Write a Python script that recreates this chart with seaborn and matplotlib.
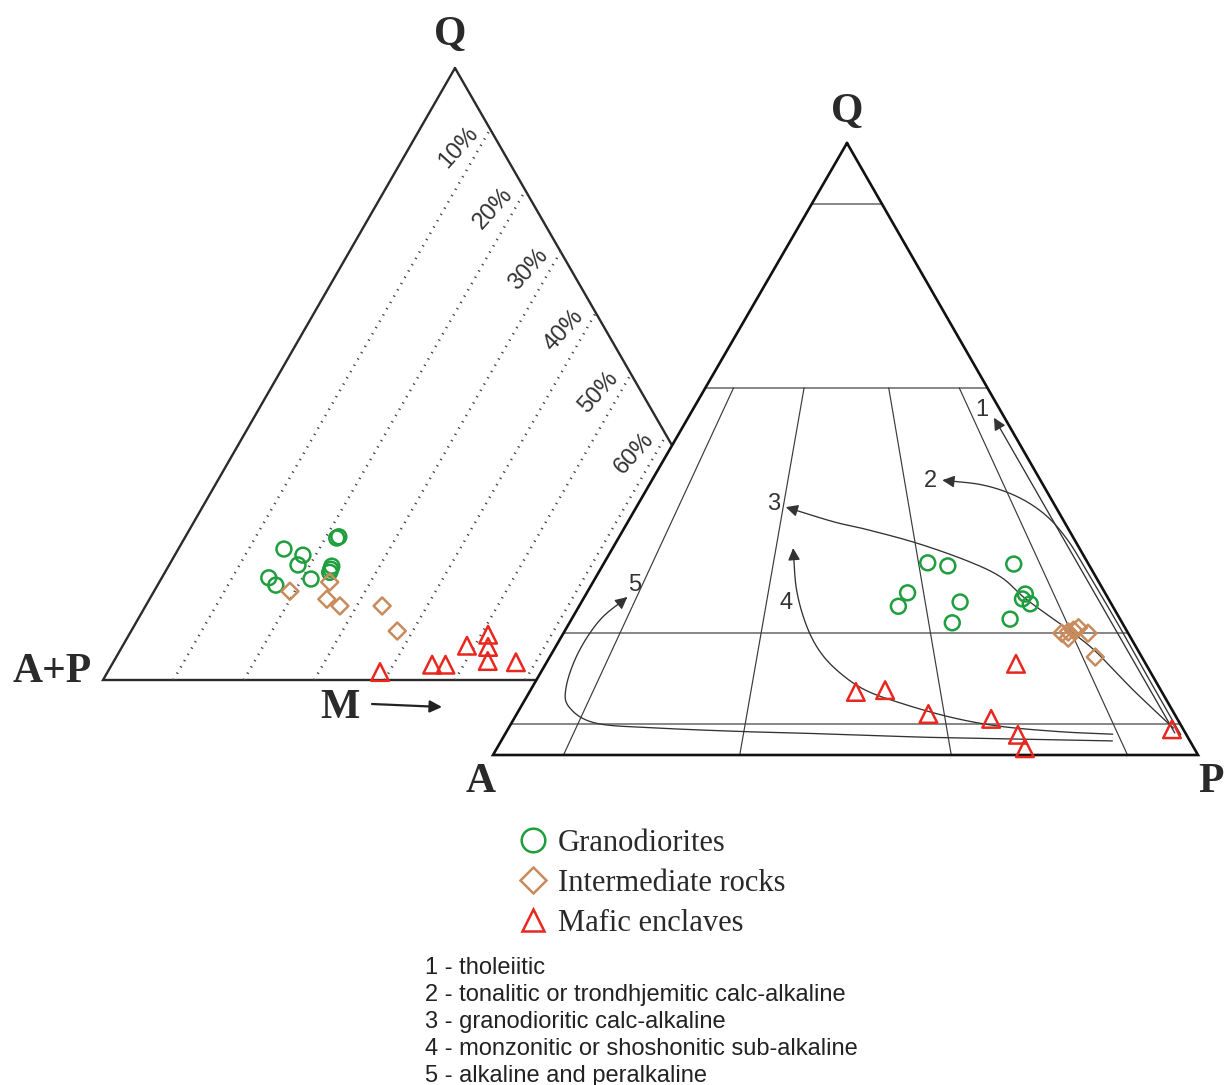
import numpy as np
import pandas as pd
import matplotlib
matplotlib.use("Agg")
import matplotlib.pyplot as plt
from matplotlib.lines import Line2D
import seaborn as sns

sns.set_theme(style="white")
plt.rcParams["font.family"] = ["Liberation Sans", "DejaVu Sans"]

# ---------------- data (percent) ----------------
# Q-(A+P)-M diagram: quartz and mafic-mineral contents
qm_gran_q = [23.2, 23.4, 21.4, 20.4, 18.8, 18.6, 18.1, 17.6, 16.5, 16.7, 15.5]
qm_gran_m = [21.6, 21.8, 15.0, 18.2, 18.3, 23.2, 23.3, 23.4, 21.3, 15.2, 16.8]
qm_int_q = [14.5, 16.0, 13.2, 12.1, 12.1, 8.0]
qm_int_m = [19.3, 24.2, 25.2, 27.6, 33.6, 37.8]
qm_maf_q = [1.3, 2.5, 2.5, 5.6, 7.4, 5.4, 3.1, 2.9]
qm_maf_m = [38.7, 45.5, 47.4, 48.9, 51.0, 52.0, 53.1, 57.2]

# Q-A-P diagram: quartz and plagioclase contents
qap_gran_q = [31.4, 30.9, 31.2, 26.5, 24.3, 25.0, 21.6, 22.2, 26.3, 25.5, 24.7]
qap_gran_p = [45.9, 49.0, 58.2, 45.5, 45.3, 53.7, 54.3, 62.2, 62.3, 62.3, 63.8]
qap_int_q = [19.9, 19.1, 20.4, 20.8, 19.9, 16.0, 20.1]
qap_int_p = [70.7, 72.0, 72.1, 72.6, 74.4, 77.4, 71.5]
qap_maf_q = [10.3, 10.6, 6.7, 5.9, 14.9, 3.3, 1.1, 4.2]
qap_maf_p = [46.3, 50.3, 58.4, 67.7, 66.7, 72.8, 74.9, 94.2]

group_names = ["Granodiorites", "Intermediate rocks", "Mafic enclaves"]
group_colors = ["#1f9e3e", "#c98a5c", "#e8281e"]
group_markers = ["o", "D", "^"]
group_sizes = [115, 75, 160]

m_levels = [10, 20, 30, 40, 50, 60]
m_tick_labels = ["10%", "20%", "30%", "40%", "50%", "60%"]
qap_q_levels = [90, 60, 20, 5]
qap_p_ratios = [10, 35, 65, 90]

# magmatic series trends (Q %, P %), drawn from start to arrow tip
trend_q = {
    "1": [3.6, 55.1],
    "2": [3.3, 10.6, 20.4, 29.4, 35.1, 39.2, 42.2, 44.1, 44.9],
    "3": [4.4, 10.6, 16.7, 19.9, 23.4, 25.8, 29.1, 31.7, 34.6, 36.8, 38.1, 40.5],
    "4": [3.4, 3.8, 4.7, 6.2, 8.5, 10.6, 13.4, 16.8, 21.2, 27.0, 33.8],
    "5": [2.3, 2.6, 2.9, 3.4, 3.8, 4.4, 5.2, 7.8, 11.1, 16.7, 22.1, 25.8],
}
trend_p = {
    "1": [94.9, 43.4],
    "2": [95.9, 88.6, 78.9, 69.8, 63.9, 58.7, 53.2, 47.4, 41.2],
    "3": [94.3, 85.5, 77.3, 72.3, 66.3, 62.3, 57.4, 51.4, 42.8, 34.7, 29.2, 21.2],
    "4": [86.2, 78.6, 69.5, 61.7, 53.5, 47.5, 42.5, 38.0, 33.8, 29.5, 25.6],
    "5": [86.7, 72.9, 59.9, 47.1, 34.3, 21.3, 12.0, 6.9, 4.8, 3.7, 4.1, 6.1],
}
trend_label_q = [56.4, 44.8, 41.0, 24.8, 27.8]
trend_label_p = [41.0, 39.6, 19.2, 29.1, 6.1]
trend_names = ["1", "2", "3", "4", "5"]

series_text = [
    "1 - tholeiitic",
    "2 - tonalitic or trondhjemitic calc-alkaline",
    "3 - granodioritic calc-alkaline",
    "4 - monzonitic or shoshonitic sub-alkaline",
    "5 - alkaline and peralkaline",
]

# ---------------- geometry ----------------
W, H = 1225, 1085
QM_V = ((455, 68), (103, 680), (807, 680))     # Q, A+P, M
QAP_V = ((847, 143), (493, 755), (1198, 755))  # Q, A, P


def tern(verts, top, right):
    t = np.asarray(top, float) / 100.0
    r = np.asarray(right, float) / 100.0
    l = 1.0 - t - r
    (tx, ty), (lx, ly), (rx, ry) = verts
    return t * tx + l * lx + r * rx, t * ty + l * ly + r * ry


def smooth(xs, ys, n=24):
    pts = np.column_stack([xs, ys])
    if len(pts) < 3:
        return pts
    p = np.vstack([2 * pts[0] - pts[1], pts, 2 * pts[-1] - pts[-2]])
    out = []
    t = np.linspace(0, 1, n, endpoint=False)[:, None]
    for i in range(1, len(p) - 2):
        p0, p1, p2, p3 = p[i - 1], p[i], p[i + 1], p[i + 2]
        out.append(0.5 * (2 * p1 + (-p0 + p2) * t
                          + (2 * p0 - 5 * p1 + 4 * p2 - p3) * t ** 2
                          + (-p0 + 3 * p1 - 3 * p2 + p3) * t ** 3))
    out.append(pts[-1:])
    return np.vstack(out)


fig = plt.figure(figsize=(W / 100, H / 100), dpi=100)
ax = fig.add_axes([0, 0, 1, 1])

dark = "#2b2b2b"
bold_serif = dict(family="Liberation Serif", weight="bold", size=30, color="#2a2a2a")

# ---------------- Q-(A+P)-M diagram ----------------
tri = np.array(QM_V + (QM_V[0],))
ax.plot(tri[:, 0], tri[:, 1], color=dark, lw=1.7, zorder=1, solid_joinstyle="miter")
for m, lab in zip(m_levels, m_tick_labels):
    x0, y0 = tern(QM_V, 0, m)
    x1, y1 = tern(QM_V, 100 - m, m)
    ax.plot([x0, x1], [y0, y1], color="#444444", lw=1.8,
            linestyle=(0, (0.5, 2.4)), zorder=1)
    ax.text(x1 - 32, y1 + 18, lab, rotation=48, ha="center", va="center",
            fontsize=17, color="#333333", zorder=2)

qm_sets = [(qm_gran_q, qm_gran_m), (qm_int_q, qm_int_m), (qm_maf_q, qm_maf_m)]
for (qv, mv), name, col, mk, s in zip(qm_sets, group_names, group_colors,
                                      group_markers, group_sizes):
    x, y = tern(QM_V, qv, mv)
    df = pd.DataFrame({"x": x, "y": y})
    sns.scatterplot(data=df, x="x", y="y", ax=ax, marker=mk, s=s, color=col,
                    facecolor="none", edgecolor=col, linewidth=1.8, zorder=3,
                    legend=False)

ax.text(450, 35, "Q", ha="center", va="center", **bold_serif)
ax.text(92, 672, "A+P", ha="right", va="center", **bold_serif)
ax.text(340, 708, "M", ha="center", va="center", **bold_serif)
ax.annotate("", xy=(442, 707), xytext=(372, 704),
            arrowprops=dict(arrowstyle="-|>", color="#222222", lw=1.6,
                            mutation_scale=18, shrinkA=0, shrinkB=0))

# ---------------- Q-A-P diagram ----------------
tri2 = np.array(QAP_V)
ax.fill(tri2[:, 0], tri2[:, 1], color="white", zorder=4)
for q in qap_q_levels:
    x, y = tern(QAP_V, [q, q], [0, 100 - q])
    ax.plot(x, y, color="#7d7d7d", lw=1.3, zorder=5)
for r in qap_p_ratios:
    x, y = tern(QAP_V, [60, 0], [0.4 * r, r])
    ax.plot(x, y, color="#3a3a3a", lw=0.85, zorder=5)
tri2c = np.vstack([tri2, tri2[:1]])
ax.plot(tri2c[:, 0], tri2c[:, 1], color="#111111", lw=1.9, zorder=6,
        solid_joinstyle="miter")

for key in trend_names:
    x, y = tern(QAP_V, trend_q[key], trend_p[key])
    pts = smooth(x, y)
    tip = pts[-1]
    d = pts[-2] - tip
    d = d / np.hypot(*d)
    ax.plot(list(pts[:-1, 0]) + [tip[0] + 4 * d[0]],
            list(pts[:-1, 1]) + [tip[1] + 4 * d[1]],
            color="#333333", lw=0.95, zorder=5)
    base = tip + d * 10
    ax.annotate("", xy=tuple(tip), xytext=tuple(base),
                arrowprops=dict(arrowstyle="-|>", color="#333333", lw=0.95,
                                mutation_scale=18, shrinkA=0, shrinkB=0),
                zorder=6)

lx, ly = tern(QAP_V, trend_label_q, trend_label_p)
for name, x, y in zip(trend_names, lx, ly):
    ax.text(x, y, name, ha="center", va="center", fontsize=17,
            color="#333333", zorder=7)

qap_sets = [(qap_gran_q, qap_gran_p), (qap_int_q, qap_int_p), (qap_maf_q, qap_maf_p)]
for (qv, pv), name, col, mk, s in zip(qap_sets, group_names, group_colors,
                                      group_markers, group_sizes):
    x, y = tern(QAP_V, qv, pv)
    df = pd.DataFrame({"x": x, "y": y})
    sns.scatterplot(data=df, x="x", y="y", ax=ax, marker=mk, s=s, color=col,
                    facecolor="none", edgecolor=col, linewidth=1.8, zorder=8,
                    legend=False)

ax.text(847, 112, "Q", ha="center", va="center", **bold_serif)
ax.text(481, 782, "A", ha="center", va="center", **bold_serif)
ax.text(1211, 782, "P", ha="center", va="center", **bold_serif)

# ---------------- legend and series key ----------------
handles = [Line2D([], [], linestyle="none", marker=mk, markersize=ms,
                  markerfacecolor="none", markeredgecolor=col, markeredgewidth=1.8)
           for mk, col, ms in zip(group_markers, group_colors, [17, 13, 16])]
leg = ax.legend(handles, group_names, loc="upper left",
                bbox_to_anchor=(518, 829), bbox_transform=ax.transData,
                frameon=False, handlelength=1.0, handletextpad=0.3,
                labelspacing=0.36, borderpad=0, borderaxespad=0,
                prop=dict(family="Liberation Serif", size=22))
for t in leg.get_texts():
    t.set_color("#2a2a2a")

for i, line in enumerate(series_text):
    ax.text(425, 974 + 27 * i, line, ha="left", va="baseline", fontsize=17,
            color="#222222")

ax.set_xlim(0, W)
ax.set_ylim(H, 0)
ax.set_axis_off()
fig.savefig("out.png", dpi=100, facecolor="white")
